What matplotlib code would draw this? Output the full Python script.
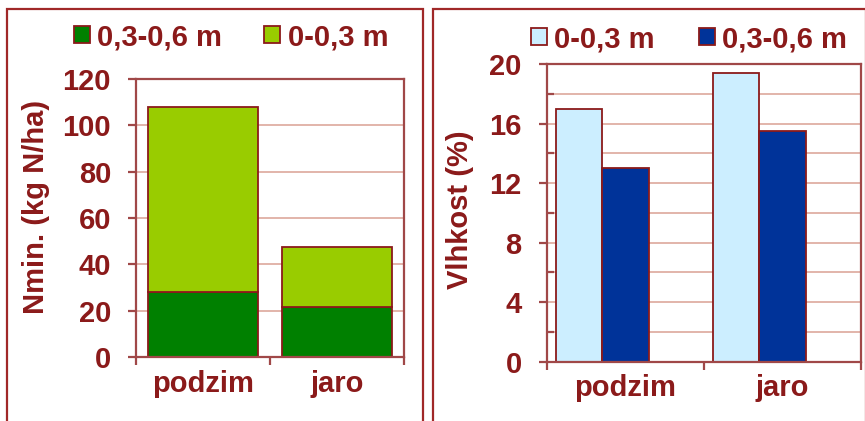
import matplotlib.pyplot as plt
import matplotlib.patches as mpatches
from matplotlib.ticker import MultipleLocator, FixedLocator, NullFormatter
import numpy as np

plt.rcParams['font.family'] = ['Liberation Sans', 'DejaVu Sans']
plt.rcParams['font.weight'] = 'bold'

# data
seasons = ['podzim', 'jaro']
nmin_deep = [28, 21.5]      # 0,3-0,6 m
nmin_top = [80, 26]         # 0-0,3 m
vlh_top = [17.0, 19.4]      # 0-0,3 m
vlh_deep = [13.0, 15.5]     # 0,3-0,6 m

txt = '#8b1a1a'
spine = '#a04848'
grid = '#e2b4aa'
edge = '#8b1a1a'
fs = 21

fig = plt.figure(figsize=(8.65, 4.21), dpi=100)
W, H = 865, 421

# panel frames
fig.patches.append(mpatches.Rectangle((7 / W, -0.1), 416 / W, 1.1 - 9 / H, transform=fig.transFigure,
                                      fill=False, ec='#a02828', lw=1.6))
fig.patches.append(mpatches.Rectangle((433 / W, -0.1), 0.5, 1.1 - 9 / H, transform=fig.transFigure,
                                      fill=False, ec='#a02828', lw=1.6))


def style(ax):
    for s in ax.spines.values():
        s.set_color(spine)
        s.set_linewidth(1.6)
    ax.set_axisbelow(True)
    ax.set_xlim(-0.5, 1.5)
    ax.xaxis.set_major_locator(FixedLocator([-0.5, 0.5, 1.5]))
    ax.xaxis.set_major_formatter(NullFormatter())
    ax.xaxis.set_minor_locator(FixedLocator([0, 1]))
    ax.set_xticklabels(seasons, minor=True)
    ax.tick_params(axis='x', which='major', direction='out', length=6, width=1.6, color=spine)
    ax.tick_params(axis='x', which='minor', length=0, pad=9, labelsize=fs, labelcolor=txt)
    ax.tick_params(axis='y', which='major', direction='out', length=6, width=1.6, color=spine,
                   labelsize=fs, labelcolor=txt, pad=12)
    for lab in ax.get_xticklabels(minor=True) + ax.get_yticklabels():
        lab.set_fontweight('bold')


x = np.arange(len(seasons))

# left: Nmin
ax1 = fig.add_axes([136 / W, 1 - 357 / H, 268 / W, 278 / H])
b1 = ax1.bar(x, nmin_deep, width=0.82, color='#008000', edgecolor=edge, lw=1.3)
b2 = ax1.bar(x, nmin_top, bottom=nmin_deep, width=0.82, color='#99cc00', edgecolor=edge, lw=1.3)
ax1.set_ylim(0, 120)
ax1.yaxis.set_major_locator(MultipleLocator(20))
ax1.yaxis.grid(True, color=grid, lw=1.4)
style(ax1)
ax1.set_ylabel('Nmin. (kg N/ha)', fontsize=fs, color=txt, fontweight='bold')
ax1.yaxis.set_label_coords(-0.321, 0.541)
fig.legend([b1[0], b2[0]], ['0,3-0,6 m', '0-0,3 m'], loc='center',
           bbox_to_anchor=(231 / W, 1 - 37 / H), ncol=2, frameon=False,
           labelcolor=txt, handlelength=0.55, handleheight=0.55, handletextpad=0.25,
           columnspacing=1.45, borderpad=0, prop={'weight': 'bold', 'size': fs})

# right: Vlhkost
bw = 0.296
ax2 = fig.add_axes([546.7 / W, 1 - 361.7 / H, 314.3 / W, 297.7 / H])
c1 = ax2.bar(x - bw, vlh_top, width=bw, color='#cceeff', edgecolor=edge, lw=1.3)
c2 = ax2.bar(x, vlh_deep, width=bw, color='#003399', edgecolor=edge, lw=1.3)
ax2.set_ylim(0, 20)
ax2.yaxis.set_major_locator(MultipleLocator(4))
ax2.yaxis.set_minor_locator(MultipleLocator(2))
ax2.yaxis.grid(True, which='both', color=grid, lw=1.4)
style(ax2)
ax2.tick_params(axis='y', which='minor', direction='in', length=5, width=1.6, color=spine)
ax2.set_ylabel('Vlhkost (%)', fontsize=fs, color=txt, fontweight='bold')
ax2.yaxis.set_label_coords(-0.231, 0.511)
fig.legend([c1[0], c2[0]], ['0-0,3 m', '0,3-0,6 m'], loc='center',
           bbox_to_anchor=(689 / W, 1 - 39 / H), ncol=2, frameon=False,
           labelcolor=txt, handlelength=0.55, handleheight=0.55, handletextpad=0.25,
           columnspacing=1.5, borderpad=0, prop={'weight': 'bold', 'size': fs})

fig.savefig('out.png', dpi=100)
